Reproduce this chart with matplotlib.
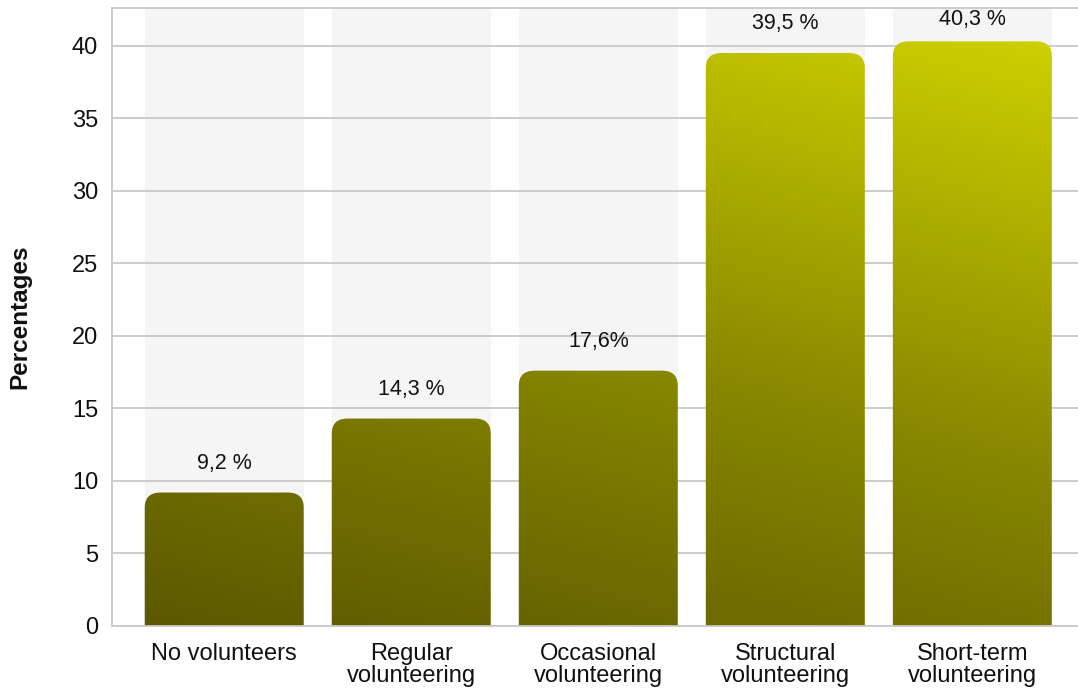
import numpy as np
import matplotlib
matplotlib.use("Agg")
import matplotlib.pyplot as plt
from matplotlib.patches import FancyBboxPatch
from matplotlib.colors import LinearSegmentedColormap

plt.rcParams['font.family'] = ['Liberation Sans', 'DejaVu Sans']

categories = ["No volunteers", "Regular\nvolunteering", "Occasional\nvolunteering",
              "Structural\nvolunteering", "Short-term\nvolunteering"]
values = [9.2, 14.3, 17.6, 39.5, 40.3]
value_labels = ["9,2 %", "14,3 %", "17,6%", "39,5 %", "40,3 %"]
yticks = [0, 5, 10, 15, 20, 25, 30, 35, 40]

fig = plt.figure(figsize=(10.78, 6.89), dpi=100)
ax = fig.add_axes([112/1078, 63/689, (1078-112)/1078, (626-8)/689])

x0, x1 = -0.6, 4.565
y0, y1 = 0, 42.6
bar_w = 0.85

# grey background bands
xs = np.arange(len(categories))
ax.bar(xs, [y1]*len(xs), width=bar_w, color="#f5f5f5", zorder=0.2)

# gradient image
gx = np.linspace(0, 1, 400)
gy = np.linspace(0, 1, 400)
GX, GY = np.meshgrid(gx, gy)
T = np.clip(0.3*GX + 0.75*GY, 0, 1)
cmap = LinearSegmentedColormap.from_list("olive", ["#5a5700", "#8a8900", "#cdd000"])

for i, v in enumerate(values):
    patch = FancyBboxPatch((xs[i]-bar_w/2, -3), bar_w, v+3,
                           boxstyle="round,pad=0,rounding_size=0.085",
                           mutation_aspect=12.1,
                           facecolor="none", edgecolor="none",
                           transform=ax.transData, zorder=2)
    ax.add_patch(patch)
    im = ax.imshow(T, cmap=cmap, vmin=0, vmax=1, origin="lower",
                   extent=(x0, x1, y0, y1), aspect="auto",
                   interpolation="bilinear", zorder=2)
    im.set_clip_path(patch)
    ax.text(xs[i], min(v + 2.0, 41.8), value_labels[i], ha="center", va="center",
            fontsize=15.5, color="#111111", zorder=3)

ax.set_xlim(x0, x1)
ax.set_ylim(y0, y1)
ax.set_yticks(yticks)
ax.set_xticks(xs)
ax.set_xticklabels(categories, fontsize=17, linespacing=1.0, color="#111111")
ax.tick_params(axis="y", length=0, pad=10, labelsize=17, labelcolor="#111111")
ax.tick_params(axis="x", length=0, pad=12)

ax.set_axisbelow(True)
ax.yaxis.grid(True, color="#c8c8c8", linewidth=1.3)
ax.xaxis.grid(False)
for s in ["left", "top", "bottom"]:
    ax.spines[s].set_color("#c8c8c8")
    ax.spines[s].set_linewidth(1.3)
ax.spines["right"].set_visible(False)

ax.set_ylabel("Percentages", fontsize=17.5, fontweight="bold", labelpad=29, color="#111111")

fig.savefig("out.png", dpi=100)
